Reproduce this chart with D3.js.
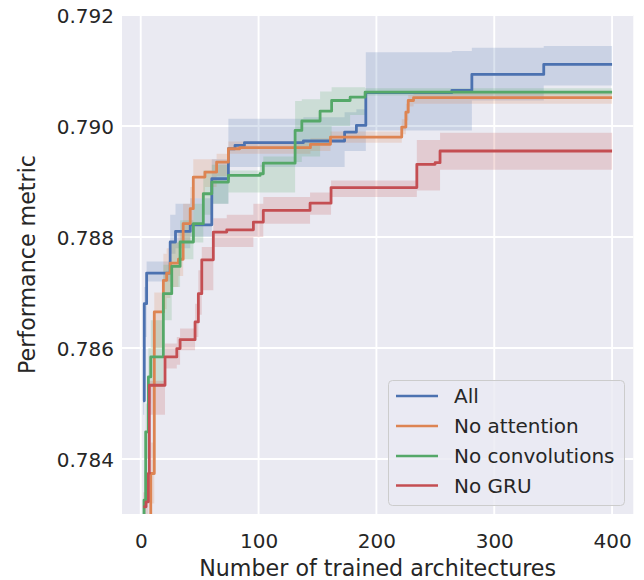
<!DOCTYPE html>
<html><head><meta charset="utf-8">
<script src="https://cdn.jsdelivr.net/npm/d3@7"></script>
<style>body{margin:0;background:#fff}text{font-family:"DejaVu Sans",sans-serif;fill:#262626}</style>
</head><body>
<svg id="c" width="644" height="580"></svg>
<script>
const categories = ["All", "No attention", "No convolutions", "No GRU"];
const colors = ["#4C72B0", "#DD8452", "#55A868", "#C44E52"];
const xTicks = [0, 100, 200, 300, 400];
const yTicks = [0.784, 0.786, 0.788, 0.790, 0.792];
const xTickLabels = ["0", "100", "200", "300", "400"];
const yTickLabels = ["0.784", "0.786", "0.788", "0.790", "0.792"];

const allX  = [2, 3, 5, 25, 29.5, 42, 60.3, 74.4, 80, 88, 138, 173, 183, 191, 264, 281, 342, 400];
const allY  = [0.78505, 0.7868, 0.78735, 0.78791, 0.78810, 0.78822, 0.78905, 0.78959, 0.78965, 0.78970, 0.78973, 0.78989, 0.79001, 0.79060, 0.79064, 0.79093, 0.79111, 0.79111];
const allLo = [0.7848, 0.7862, 0.7872, 0.7877, 0.7878, 0.7880, 0.7886, 0.78926, 0.78926, 0.78926, 0.78926, 0.78955, 0.78955, 0.78992, 0.78992, 0.79046, 0.79073, 0.79073];
const allHi = [0.7853, 0.7871, 0.78756, 0.7884, 0.7886, 0.7887, 0.7894, 0.79013, 0.79013, 0.79013, 0.79016, 0.79025, 0.79030, 0.79133, 0.79135, 0.79141, 0.79144, 0.79144];

const noAttX  = [4, 8.5, 11.5, 19.2, 22, 25, 32, 36, 42, 44.6, 54.5, 64.4, 74.4, 84, 144, 161, 221.5, 225, 227, 231.5, 400];
const noAttY  = [0.7825, 0.78374, 0.78665, 0.78722, 0.78735, 0.78753, 0.78760, 0.78824, 0.78851, 0.78908, 0.78917, 0.78935, 0.78959, 0.78961, 0.78967, 0.78980, 0.78998, 0.79025, 0.79046, 0.79051, 0.79051];
const noAttLo = [0.7820, 0.7832, 0.7860, 0.7867, 0.7869, 0.7871, 0.7873, 0.7879, 0.7881, 0.7887, 0.7889, 0.7891, 0.7895, 0.78950, 0.78955, 0.78970, 0.78985, 0.7901, 0.79035, 0.7904, 0.7904];
const noAttHi = [0.7830, 0.7843, 0.7870, 0.7877, 0.7878, 0.7879, 0.7881, 0.7886, 0.7889, 0.7894, 0.7894, 0.7895, 0.78972, 0.78972, 0.78978, 0.78990, 0.79012, 0.7904, 0.79056, 0.7906, 0.7906];

const noConvX  = [1, 2.8, 4.2, 6.5, 8.5, 19.2, 26.3, 33.4, 44.7, 53.1, 60.3, 74.4, 101.3, 104, 131, 136.7, 152.2, 162, 177.7, 190.4, 400];
const noConvY  = [0.7825, 0.78326, 0.78449, 0.78548, 0.78584, 0.78698, 0.78747, 0.78791, 0.78824, 0.78878, 0.78899, 0.78911, 0.78914, 0.78933, 0.78992, 0.79009, 0.79027, 0.79046, 0.79052, 0.79061, 0.79061];
const noConvLo = [0.7820, 0.7828, 0.7840, 0.7850, 0.7853, 0.7865, 0.7871, 0.7876, 0.7879, 0.7884, 0.7886, 0.7888, 0.7888, 0.78880, 0.78935, 0.78945, 0.7897, 0.7900, 0.7902, 0.79055, 0.79055];
const noConvHi = [0.7830, 0.7838, 0.7850, 0.7860, 0.7865, 0.7875, 0.7879, 0.7883, 0.7886, 0.7892, 0.7893, 0.7892, 0.7893, 0.78945, 0.79045, 0.79048, 0.79062, 0.7907, 0.7907, 0.79068, 0.79068];

const noGruX  = [2.2, 4.5, 6.5, 7.3, 20.6, 30.6, 33.4, 46.1, 48.9, 51.8, 61.6, 73, 95.6, 104, 143.7, 161.5, 234.3, 249.8, 254, 400];
const noGruY  = [0.78314, 0.78323, 0.78374, 0.78533, 0.78584, 0.78599, 0.78615, 0.78647, 0.78698, 0.78759, 0.78809, 0.78813, 0.78827, 0.78848, 0.78861, 0.78889, 0.78931, 0.78934, 0.78955, 0.78955];
const noGruLo = [0.7829, 0.7830, 0.7835, 0.7848, 0.78563, 0.7857, 0.78596, 0.7862, 0.7866, 0.78704, 0.78782, 0.78782, 0.7880, 0.78824, 0.7884, 0.78872, 0.78884, 0.78884, 0.78921, 0.78921];
const noGruHi = [0.7834, 0.7835, 0.7842, 0.78541, 0.78608, 0.7862, 0.78635, 0.7868, 0.7874, 0.78782, 0.78834, 0.78840, 0.7886, 0.78872, 0.7888, 0.78902, 0.78975, 0.78975, 0.78988, 0.78988];

const seriesX  = [allX, noAttX, noConvX, noGruX];
const seriesY  = [allY, noAttY, noConvY, noGruY];
const seriesLo = [allLo, noAttLo, noConvLo, noGruLo];
const seriesHi = [allHi, noAttHi, noConvHi, noGruHi];

const L = 122, R = 633.3, T = 15, B = 514;
const x = d3.scaleLinear().domain([-15.9, 418]).range([L, R]);
const y = d3.scaleLinear().domain([0.78301, 0.792]).range([B, T]);

const svg = d3.select("#c");
svg.append("rect").attr("x", L).attr("y", T).attr("width", R - L).attr("height", B - T).attr("fill", "#EAEAF2");
svg.append("defs").append("clipPath").attr("id", "clip")
  .append("rect").attr("x", L).attr("y", T).attr("width", R - L).attr("height", B - T);

// grid
const grid = svg.append("g");
grid.selectAll(".gx").data(xTicks).join("line")
  .attr("x1", d => x(d)).attr("x2", d => x(d)).attr("y1", T).attr("y2", B)
  .attr("stroke", "#fff").attr("stroke-width", 1.9);
grid.selectAll(".gy").data(yTicks).join("line")
  .attr("x1", L).attr("x2", R).attr("y1", d => y(d)).attr("y2", d => y(d))
  .attr("stroke", "#fff").attr("stroke-width", 1.9);

const plot = svg.append("g").attr("clip-path", "url(#clip)");
const area = d3.area().x(d => x(d.x)).y0(d => y(d.lo)).y1(d => y(d.hi)).curve(d3.curveStepAfter);
const line = d3.line().x(d => x(d.x)).y(d => y(d.y)).curve(d3.curveStepAfter);

const data = categories.map((c, i) => seriesX[i].map((xv, j) => ({x: xv, y: seriesY[i][j], lo: seriesLo[i][j], hi: seriesHi[i][j]})));

data.forEach((d, i) => {
  plot.append("path").datum(d).attr("d", area).attr("fill", colors[i]).attr("fill-opacity", 0.2);
});
data.forEach((d, i) => {
  plot.append("path").datum(d).attr("d", line).attr("fill", "none").attr("stroke", colors[i])
    .attr("stroke-width", 2.8).attr("stroke-linejoin", "round").attr("stroke-linecap", "butt");
});

// axes tick labels
const xa = d3.axisBottom(x).tickValues(xTicks).tickFormat((d, i) => xTickLabels[i]).tickSize(0).tickPadding(0);
const gx = svg.append("g").attr("transform", `translate(0,${B})`).call(xa);
gx.select(".domain").remove();
gx.selectAll("text").attr("font-size", 20).attr("dy", null).attr("y", 34).style("font-family", '"DejaVu Sans"').attr("fill", "#262626");

const ya = d3.axisLeft(y).tickValues(yTicks).tickFormat((d, i) => yTickLabels[i]).tickSize(0).tickPadding(0);
const gy = svg.append("g").attr("transform", `translate(${L},0)`).call(ya);
gy.select(".domain").remove();
gy.selectAll("text").attr("font-size", 20).attr("x", -8).attr("dy", "0.35em").style("font-family", '"DejaVu Sans"').attr("fill", "#262626");

svg.append("text").attr("x", (L + R) / 2).attr("y", 576).attr("text-anchor", "middle")
  .attr("font-size", 22.2).text("Number of trained architectures");
svg.append("text").attr("transform", `translate(35,${(T + B) / 2}) rotate(-90)`).attr("text-anchor", "middle")
  .attr("font-size", 22.2).text("Performance metric");

// legend
const lg = svg.append("g");
lg.append("rect").attr("x", 388.5).attr("y", 380.5).attr("width", 236).attr("height", 125).attr("rx", 4)
  .attr("fill", "#EAEAF2").attr("fill-opacity", 0.8).attr("stroke", "#cccccc").attr("stroke-width", 1);
const rowY = [396, 426, 456, 485.5];
categories.forEach((c, i) => {
  lg.append("line").attr("x1", 396).attr("x2", 438).attr("y1", rowY[i]).attr("y2", rowY[i])
    .attr("stroke", colors[i]).attr("stroke-width", 2.6);
  lg.append("text").attr("x", 454).attr("y", rowY[i]).attr("dy", "0.35em").attr("font-size", 20).text(c);
});
</script>
</body></html>
